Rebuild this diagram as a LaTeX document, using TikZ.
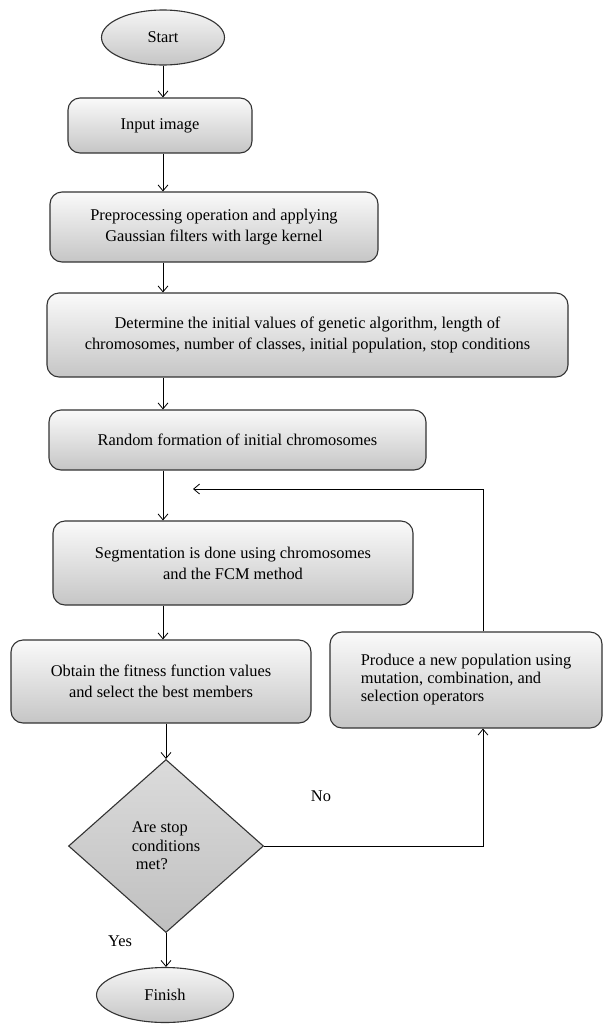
\documentclass[tikz,border=0pt]{standalone}
\usepackage{fontspec}
\setmainfont{Liberation Serif}
\usetikzlibrary{shapes.geometric,arrows.meta}

\begin{document}
\begin{tikzpicture}[x=1pt, y=-1pt, font=\fontsize{16.4}{21}\selectfont,
  box/.style = {draw=black!80, line width=1.1pt, rounded corners=12pt, top color=gray!4, bottom color=gray!45, align=center, inner sep=0pt},
  term/.style = {draw=black!80, line width=1.1pt, ellipse, top color=gray!8, bottom color=gray!45, minimum height=55pt, inner sep=0pt},
  cond/.style = {draw=black!80, line width=1.1pt, diamond, top color=gray!28, middle color=gray!6, bottom color=gray!50, align=left, inner sep=0pt, font=\fontsize{16.4}{18.5}\selectfont},
  arr/.style = {line width=0.8pt, -{Straight Barb[length=6pt,width=10pt]}}]
    \useasboundingbox (0,0) rectangle (612,1034);
    \node[term, minimum width=123pt] (start) at (163,37.5) {Start};
    \node[box, minimum width=184pt, minimum height=55pt] (input) at (160,125.5) {Input image};
    \node[box, minimum width=328pt, minimum height=70pt] (preproc) at (214,227) {Preprocessing operation and applying\\ Gaussian filters with large kernel};
    \node[box, minimum width=521pt, minimum height=84pt] (init) at (307.5,335) {Determine the initial values of genetic algorithm, length of\\chromosomes, number of classes, initial population, stop conditions};
    \node[box, minimum width=377pt, minimum height=60pt] (random) at (237.5,440) {Random formation of initial chromosomes};
    \node[box, minimum width=360pt, minimum height=84pt] (segment) at (233,563) {Segmentation is done using chromosomes\\and the FCM method};
    \node[box, minimum width=300pt, minimum height=83pt] (fitness) at (161,681.5) {Obtain the fitness function values\\and select the best members};
    \node[box, minimum width=272pt, minimum height=96pt, align=left, font=\fontsize{16.4}{18}\selectfont] (newpop) at (466,680) {Produce a new population using\\mutation, combination, and\\selection operators};
    \node[cond, minimum width=195pt, minimum height=173pt] (stop) at (166,846) {Are stop\\conditions\\\ met?};
    \node[term, minimum width=137pt] (finish) at (165,995) {Finish};
    \node (no) at (321,796) {No};
    \node (yes) at (120,941) {Yes};
    \coordinate (back) at (193,489);
    \draw[arr] (start) -- (start |- input.north);
    \draw[arr] (input.south -| start) -- (preproc.north -| start);
    \draw[arr] (preproc.south -| start) -- (init.north -| start);
    \draw[arr] (init.south -| start) -- (random.north -| start);
    \draw[arr] (random.south -| start) -- (segment.north -| start);
    \draw[arr] (segment.south -| start) -- (fitness.north -| start);
    \draw[arr] (fitness.south -| stop) -- (stop.north);
    \draw[arr] (stop.south) -- (finish.north -| stop);
    \draw[arr] (stop.east) -| ([xshift=17pt]newpop.south);
    \draw[arr] ([xshift=17pt]newpop.north) |- (back);
\end{tikzpicture}
\end{document}
